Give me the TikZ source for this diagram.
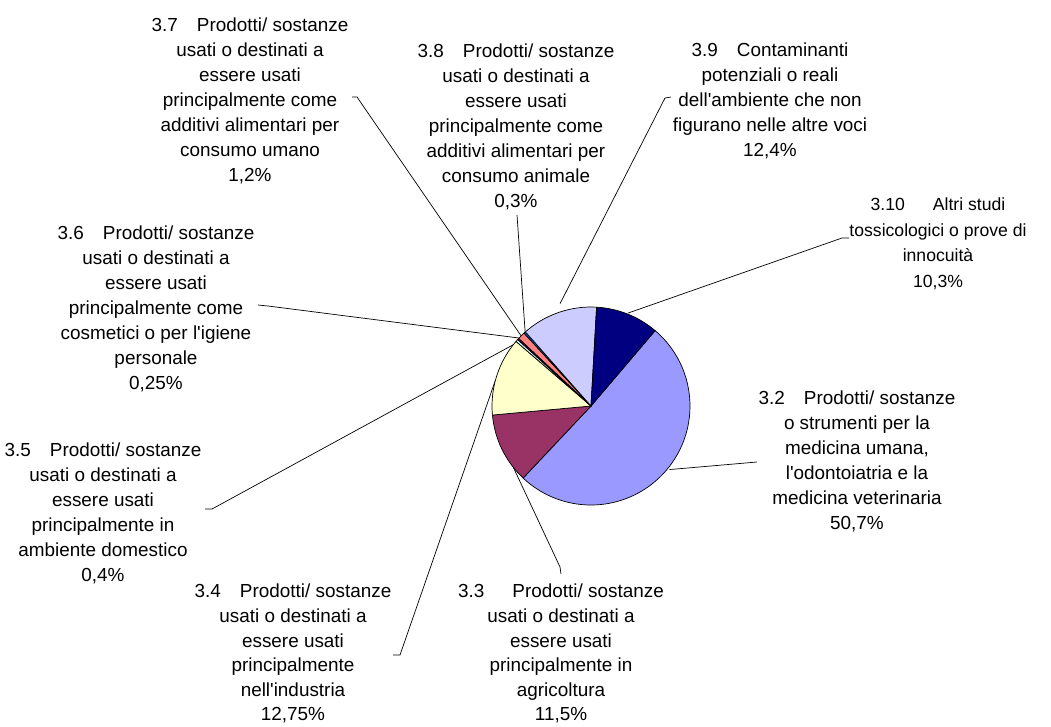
\documentclass[tikz,border=0pt]{standalone}
\usepackage{fontspec}
\setmainfont{Liberation Sans}
\usetikzlibrary{calc}

\definecolor{col32}{HTML}{9999FF}
\definecolor{col33}{HTML}{993366}
\definecolor{col34}{HTML}{FFFFCC}
\definecolor{col35}{HTML}{CCFFFF}
\definecolor{col36}{HTML}{660066}
\definecolor{col37}{HTML}{FF8080}
\definecolor{col38}{HTML}{0066CC}
\definecolor{col39}{HTML}{CCCCFF}
\definecolor{col310}{HTML}{000080}

\newcommand{\numgap}{\hspace{19pt}}
\newcommand{\widegap}{\hspace{28pt}}

\begin{document}
\begin{tikzpicture}[x=1pt, y=1pt,
    lbl/.style={align=center, inner sep=0pt, anchor=north, font=\fontsize{18.9}{25}\selectfont},
    leader/.style={line width=0.7pt},
    slice/.style={draw=black, line width=0.7pt}]

      \path[fill=white, use as bounding box] (0,0) rectangle (1051,-726);

      \coordinate (c) at (591,-406);

      % labels
      \node[lbl] (l37) at (250,-17.5) {3.7\numgap Prodotti/ sostanze\\usati o destinati a\\essere usati\\principalmente come\\additivi alimentari per\\consumo umano\\1,2\%};
      \node[lbl] (l38) at (516,-43.5) {3.8\numgap Prodotti/ sostanze\\usati o destinati a\\essere usati\\principalmente come\\additivi alimentari per\\consumo animale\\0,3\%};
      \node[lbl] (l39) at (770,-43) {3.9\numgap Contaminanti\\potenziali o reali\\dell\textquotesingle ambiente che non\\figurano nelle altre voci\\12,4\%};
      \node[lbl, font=\fontsize{17.6}{25.5}\selectfont] (l310) at (938,-198) {3.10\widegap Altri studi\\tossicologici o prove di\\innocuità\\10,3\%};
      \node[lbl] (l36) at (156,-226) {3.6\numgap Prodotti/ sostanze\\usati o destinati a\\essere usati\\principalmente come\\cosmetici o per l\textquotesingle igiene\\personale\\0,25\%};
      \node[lbl] (l35) at (103,-443) {3.5\numgap Prodotti/ sostanze\\usati o destinati a\\essere usati\\principalmente in\\ambiente domestico\\0,4\%};
      \node[lbl] (l32) at (857,-391) {3.2\numgap Prodotti/ sostanze\\o strumenti per la\\medicina umana,\\l\textquotesingle odontoiatria e la\\medicina veterinaria\\50,7\%};
      \node[lbl, font=\fontsize{18.9}{24.6}\selectfont] (l34) at (293,-584) {3.4\numgap Prodotti/ sostanze\\usati o destinati a\\essere usati\\principalmente\\nell\textquotesingle industria\\12,75\%};
      \node[lbl, font=\fontsize{18.9}{24.6}\selectfont] (l33) at (561,-584) {3.3\widegap Prodotti/ sostanze\\usati o destinati a\\essere usati\\principalmente in\\agricoltura\\11,5\%};

      % leader lines
      \coordinate (e310) at ([shift={(c)}]68.3:100);
      \coordinate (k310) at (842,-238);
      \coordinate (t310) at (849,-238);
      \coordinate (e39) at ([shift={(c)}]106.8:107);
      \coordinate (k39) at (665,-98);
      \coordinate (t39) at (671,-97);
      \coordinate (e38) at ([shift={(c)}]131.7:99);
      \coordinate (t38) at (517,-215);
      \coordinate (e37) at ([shift={(c)}]135:98);
      \coordinate (k37) at (357,-97);
      \coordinate (t37) at (352,-97);
      \coordinate (e36) at ([shift={(c)}]136.2:98);
      \coordinate (k36) at (268,-306);
      \coordinate (t36) at (258,-305);
      \coordinate (e35) at ([shift={(c)}]138.8:97);
      \coordinate (k35) at (212,-509);
      \coordinate (t35) at (205,-509);
      \coordinate (e34) at ([shift={(c)}]164.8:99);
      \coordinate (k34) at (400,-655);
      \coordinate (t34) at (393,-655);
      \coordinate (e33) at ([shift={(c)}]211.6:97);
      \coordinate (k33) at (560,-567);
      \coordinate (t33) at (561,-574);
      \coordinate (e32) at ([shift={(c)}]-39:101);
      \coordinate (t32) at (757,-462);

      \draw[leader] (e310) -- (k310) -- (t310);
      \draw[leader] (e39) -- (k39) -- (t39);
      \draw[leader] (e38) -- (t38);
      \draw[leader] (e37) -- (k37) -- (t37);
      \draw[leader] (e36) -- (k36) -- (t36);
      \draw[leader] (e35) -- (k35) -- (t35);
      \draw[leader] (e34) -- (k34) -- (t34);
      \draw[leader] (e33) -- (k33) -- (t33);
      \draw[leader] (e32) -- (t32);

      % pie, clockwise from 3.2
      \filldraw[slice, fill=col32] (c) -- ++(49.61:99) arc (49.61:-133.28:99) -- cycle;
      \filldraw[slice, fill=col33] (c) -- ++(-133.28:99) arc (-133.28:-174.76:99) -- cycle;
      \filldraw[slice, fill=col34] (c) -- ++(185.24:99) arc (185.24:139.25:99) -- cycle;
      \filldraw[slice, fill=col35] (c) -- ++(139.25:99) arc (139.25:137.81:99) -- cycle;
      \filldraw[slice, fill=col36] (c) -- ++(137.81:99) arc (137.81:136.90:99) -- cycle;
      \filldraw[slice, fill=col37] (c) -- ++(136.90:99) arc (136.90:132.58:99) -- cycle;
      \filldraw[slice, fill=col38] (c) -- ++(132.58:99) arc (132.58:131.49:99) -- cycle;
      \filldraw[slice, fill=col39] (c) -- ++(131.49:99) arc (131.49:86.76:99) -- cycle;
      \filldraw[slice, fill=col310] (c) -- ++(86.76:99) arc (86.76:49.61:99) -- cycle;
    \end{tikzpicture}
\end{document}
